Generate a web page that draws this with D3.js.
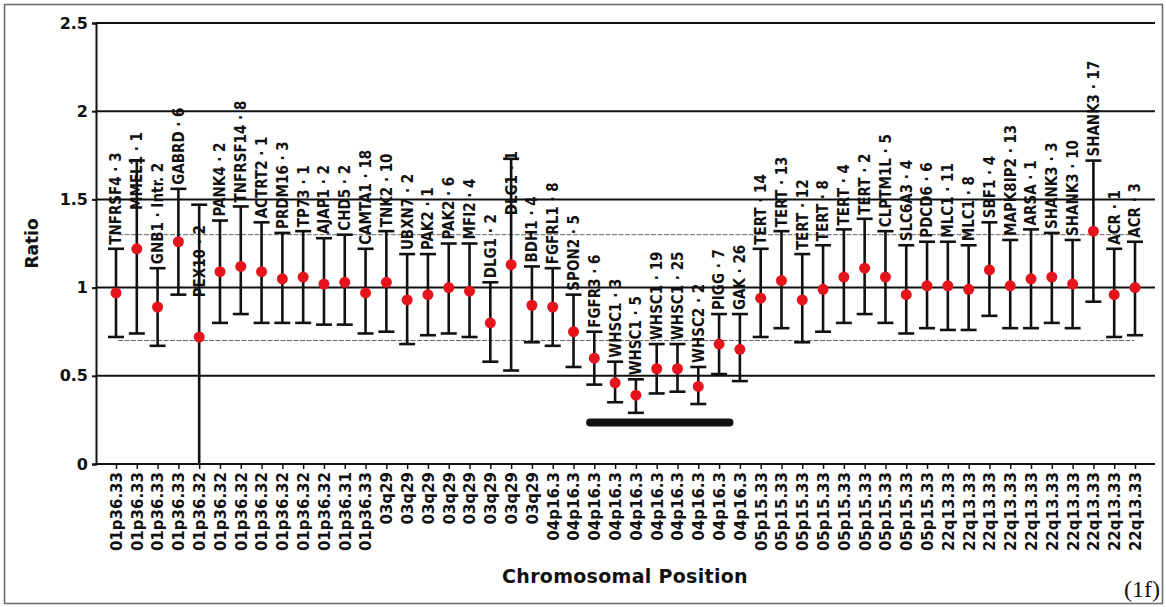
<!DOCTYPE html>
<html>
<head>
    <title>Ratio by chromosomal position</title>
    <script src="https://d3js.org/d3.v7.min.js"></script>
    <style>
        body {
            margin: 0;
            background-color: #fff;
        }

        .grid line {
            stroke: #111;
            stroke-width: 2px;
        }

        .ref {
            stroke: #666;
            stroke-width: 1px;
            stroke-dasharray: 5 1.5;
        }

        .err {
            stroke: #111;
            stroke-width: 2.6px;
        }

        .gene {
            font-family: 'DejaVu Sans Condensed', 'DejaVu Sans', sans-serif;
            font-weight: bold;
            font-size: 15px;
            fill: #111;
        }

        .pos {
            font-family: 'DejaVu Sans', sans-serif;
            font-weight: bold;
            font-size: 15px;
            fill: #111;
        }

        .ytick {
            font-family: 'DejaVu Sans', sans-serif;
            font-weight: bold;
            font-size: 16px;
            fill: #111;
        }

        .title {
            font-family: 'DejaVu Sans', sans-serif;
            font-weight: bold;
            font-size: 17px;
            fill: #111;
        }
    </style>
</head>
<body>
    <div id="chart"></div>

    <script>
        // probe labels, in plotted order
        const genes = [
            "TNFRSF4 · 3", "MMEL1 · 1", "GNB1 · Intr. 2", "GABRD · 6", "PEX10 · 2",
            "PANK4 · 2", "TNFRSF14 · 8", "ACTRT2 · 1", "PRDM16 · 3", "TP73 · 1",
            "AJAP1 · 2", "CHD5 · 2", "CAMTA1 · 18", "TNK2 · 10", "UBXN7 · 2",
            "PAK2 · 1", "PAK2 · 6", "MFI2 · 4", "DLG1 · 2", "DLG1 · 1",
            "BDH1 · 4", "FGFRL1 · 8", "SPON2 · 5", "FGFR3 · 6", "WHSC1 · 3",
            "WHSC1 · 5", "WHSC1 · 19", "WHSC1 · 25", "WHSC2 · 2", "PIGG · 7",
            "GAK · 26", "TERT · 14", "TERT · 13", "TERT · 12", "TERT · 8",
            "TERT · 4", "TERT · 2", "CLPTM1L · 5", "SLC6A3 · 4", "PDCD6 · 6",
            "MLC1 · 11", "MLC1 · 8", "SBF1 · 4", "MAPK8IP2 · 13", "ARSA · 1",
            "SHANK3 · 3", "SHANK3 · 10", "SHANK3 · 17", "ACR · 1", "ACR · 3"
        ];

        const positions = [
            "01p36.33", "01p36.33", "01p36.33", "01p36.33", "01p36.32",
            "01p36.32", "01p36.32", "01p36.32", "01p36.32", "01p36.32",
            "01p36.32", "01p36.31", "01p36.33", "03q29", "03q29",
            "03q29", "03q29", "03q29", "03q29", "03q29",
            "03q29", "04p16.3", "04p16.3", "04p16.3", "04p16.3",
            "04p16.3", "04p16.3", "04p16.3", "04p16.3", "04p16.3",
            "04p16.3", "05p15.33", "05p15.33", "05p15.33", "05p15.33",
            "05p15.33", "05p15.33", "05p15.33", "05p15.33", "05p15.33",
            "22q13.33", "22q13.33", "22q13.33", "22q13.33", "22q13.33",
            "22q13.33", "22q13.33", "22q13.33", "22q13.33", "22q13.33"
        ];

        const ratio = [
            0.97, 1.22, 0.89, 1.26, 0.72, 1.09, 1.12, 1.09, 1.05, 1.06,
            1.02, 1.03, 0.97, 1.03, 0.93, 0.96, 1.00, 0.98, 0.80, 1.13,
            0.90, 0.89, 0.75, 0.60, 0.46, 0.39, 0.54, 0.54, 0.44, 0.68,
            0.65, 0.94, 1.04, 0.93, 0.99, 1.06, 1.11, 1.06, 0.96, 1.01,
            1.01, 0.99, 1.10, 1.01, 1.05, 1.06, 1.02, 1.32, 0.96, 1.00
        ];

        const upper = [
            1.22, 1.72, 1.11, 1.56, 1.47, 1.38, 1.46, 1.37, 1.31, 1.32,
            1.28, 1.30, 1.22, 1.32, 1.19, 1.19, 1.25, 1.25, 1.03, 1.73,
            1.12, 1.11, 0.96, 0.75, 0.58, 0.48, 0.68, 0.68, 0.55, 0.85,
            0.85, 1.22, 1.32, 1.19, 1.24, 1.33, 1.39, 1.32, 1.24, 1.26,
            1.26, 1.24, 1.37, 1.27, 1.33, 1.31, 1.27, 1.72, 1.22, 1.26
        ];

        const lower = [
            0.72, 0.74, 0.67, 0.96, 0.00, 0.80, 0.85, 0.80, 0.80, 0.80,
            0.79, 0.79, 0.74, 0.75, 0.68, 0.73, 0.74, 0.72, 0.58, 0.53,
            0.69, 0.67, 0.55, 0.45, 0.35, 0.29, 0.40, 0.41, 0.34, 0.51,
            0.47, 0.72, 0.77, 0.69, 0.75, 0.80, 0.85, 0.80, 0.74, 0.77,
            0.76, 0.76, 0.84, 0.77, 0.77, 0.80, 0.77, 0.92, 0.72, 0.73
        ];

        // labels that sit lower than their bar top (ratio at label foot)
        const labelFoot = { "MMEL1 · 1": 1.44, "PEX10 · 2": 0.945, "DLG1 · 1": 1.41 };

        const yTicks = [0, 0.5, 1, 1.5, 2, 2.5];
        const refLines = [0.7, 1.3];
        const deletion = ["FGFR3 · 6", "PIGG · 7"];

        const width = 1166, height = 607;
        const plotLeft = 96, plotRight = 1155, plotTop = 23, plotBottom = 464;

        const svg = d3.select('#chart').append('svg')
            .attr("width", width)
            .attr("height", height);

        svg.append("rect")
            .attr("x", 4.5).attr("y", 4.5)
            .attr("width", 1158).attr("height", 599)
            .attr("fill", "none")
            .attr("stroke", "#666")
            .attr("stroke-width", 1.5);

        const x = d3.scalePoint().domain(genes).range([116, 1135]);
        const y = d3.scaleLinear().domain([0, 2.5]).range([plotBottom, plotTop]);

        const data = genes.map((g, i) => ({ g, pos: positions[i], v: ratio[i], hi: upper[i], lo: lower[i] }));

        // horizontal grid lines
        svg.append("g").attr("class", "grid")
            .selectAll("line")
            .data(yTicks.filter(t => t > 0))
            .join("line")
            .attr("x1", plotLeft).attr("x2", plotRight)
            .attr("y1", d => y(d)).attr("y2", d => y(d));

        // dashed reference lines
        svg.append("g")
            .selectAll("line")
            .data(refLines)
            .join("line")
            .attr("class", "ref")
            .attr("x1", 118).attr("x2", 1134)
            .attr("y1", d => y(d)).attr("y2", d => y(d));

        // y axis
        const yAxis = svg.append("g")
            .attr("transform", `translate(${plotLeft},0)`)
            .call(d3.axisLeft(y).tickValues(yTicks).tickFormat(d3.format("")).tickSize(4).tickPadding(4));
        yAxis.select(".domain").attr("stroke", "#111").attr("stroke-width", 2);
        yAxis.selectAll(".tick line").attr("stroke", "#111").attr("stroke-width", 2);
        yAxis.selectAll(".tick text").attr("class", "ytick").attr("fill", null);
        yAxis.attr("font-size", null).attr("font-family", null);

        // x axis
        const xAxis = svg.append("g")
            .attr("transform", `translate(0,${plotBottom})`)
            .call(d3.axisBottom(x).tickSizeOuter(0).tickSize(5).tickFormat(d => positions[genes.indexOf(d)]));
        xAxis.attr("font-size", null).attr("font-family", null);
        xAxis.select(".domain").attr("stroke", "#111").attr("stroke-width", 2)
            .attr("d", `M${plotLeft},0H${plotRight}`);
        xAxis.selectAll(".tick line").attr("stroke", "#111").attr("stroke-width", 1.5);
        xAxis.selectAll(".tick text")
            .attr("class", "pos")
            .attr("fill", null)
            .attr("text-anchor", "end")
            .attr("transform", "rotate(-90)")
            .attr("x", -8).attr("y", 0).attr("dy", "0.36em");

        // error bars
        const bars = svg.append("g");
        bars.selectAll("line.v")
            .data(data)
            .join("line")
            .attr("class", "err v")
            .attr("x1", d => x(d.g)).attr("x2", d => x(d.g))
            .attr("y1", d => y(d.hi)).attr("y2", d => y(d.lo));
        bars.selectAll("line.capt")
            .data(data)
            .join("line")
            .attr("class", "err capt")
            .attr("x1", d => x(d.g) - 8).attr("x2", d => x(d.g) + 8)
            .attr("y1", d => y(d.hi)).attr("y2", d => y(d.hi));
        bars.selectAll("line.capb")
            .data(data.filter(d => d.lo > 0))
            .join("line")
            .attr("class", "err capb")
            .attr("x1", d => x(d.g) - 8).attr("x2", d => x(d.g) + 8)
            .attr("y1", d => y(d.lo)).attr("y2", d => y(d.lo));

        // points
        svg.append("g")
            .selectAll("circle")
            .data(data)
            .join("circle")
            .attr("cx", d => x(d.g))
            .attr("cy", d => y(d.v))
            .attr("r", 5.5)
            .attr("fill", "#e5131b");

        // probe labels
        svg.append("g")
            .selectAll("text")
            .data(data)
            .join("text")
            .attr("class", "gene")
            .attr("transform", d => {
                const foot = labelFoot[d.g] !== undefined ? y(labelFoot[d.g]) : y(d.hi) - 4;
                return `translate(${x(d.g)},${foot}) rotate(-90)`;
            })
            .attr("dy", "0.36em")
            .text(d => d.g);

        // deleted region bar
        const step = x.step();
        svg.append("line")
            .attr("x1", x(deletion[0]) - step * 0.2)
            .attr("x2", x(deletion[1]) + step * 0.5)
            .attr("y1", y(0.235)).attr("y2", y(0.235))
            .attr("stroke", "#111")
            .attr("stroke-width", 8)
            .attr("stroke-linecap", "round");

        // axis titles
        svg.append("text")
            .attr("class", "title")
            .attr("transform", `translate(38,${(plotTop + plotBottom) / 2}) rotate(-90)`)
            .attr("text-anchor", "middle")
            .text("Ratio");

        svg.append("text")
            .attr("class", "title")
            .attr("x", 625).attr("y", 583)
            .attr("text-anchor", "middle")
            .attr("font-size", 19)
            .style("font-size", "19px")
            .style("letter-spacing", "0.3px")
            .text("Chromosomal Position");

        svg.append("text")
            .attr("x", 1160).attr("y", 597)
            .attr("text-anchor", "end")
            .attr("font-family", "'Liberation Serif', 'DejaVu Serif', serif")
            .attr("font-size", 24)
            .attr("fill", "#111")
            .text("(1f)");
    </script>
</body>
</html>
